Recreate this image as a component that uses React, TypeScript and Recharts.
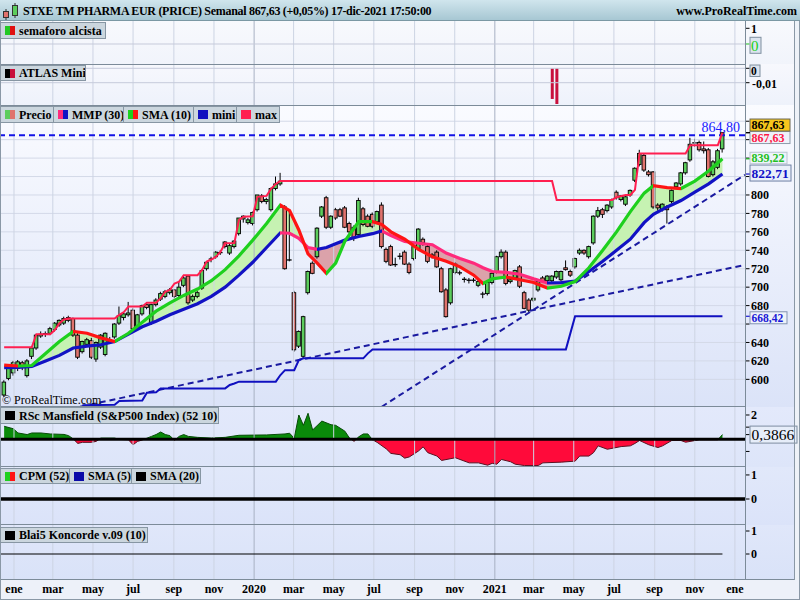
import React from 'react';
import { ComposedChart, Bar, Line, Area, XAxis, YAxis, CartesianGrid, ReferenceLine } from 'recharts';

const SERIF = '"Liberation Serif", "Times New Roman", Times, serif';
const X_DOMAIN: [number, number] = [-0.9, 160.9];

// x axis: week index 0 = week of 17-dic-2018, 156 = week of 13-dic-2021
const monthTickWeeks = [2.14, 10.57, 19.29, 28, 36.86, 45.57, 54.29, 62.86, 71.57, 80.29, 89.14, 97.86, 106.57, 115, 123.71, 132.43, 141.29, 150, 158.71];
const monthTickLabels = ['ene', 'mar', 'may', 'jul', 'sep', 'nov', '2020', 'mar', 'may', 'jul', 'sep', 'nov', '2021', 'mar', 'may', 'jul', 'sep', 'nov', 'ene'];

// weekly candles [open, high, low, close]
const candles: number[][] = [
  [583, 599, 581, 597], [601, 614, 599, 612], [607, 620, 604, 618], [612, 621, 609, 619], [618, 620, 610, 613],
  [604, 622, 602, 620], [625, 636, 622, 634], [634, 649, 632, 648], [647, 652, 645, 649], [649, 652, 646, 650],
  [650, 657, 648, 655], [654, 662, 652, 661], [659, 665, 657, 664], [661, 668, 659, 666], [667, 669, 662, 664],
  [666, 667, 646, 648], [648, 650, 622, 624], [630, 642, 628, 641], [638, 645, 636, 643], [642, 645, 622, 624],
  [622, 641, 619, 640], [635, 649, 633, 648], [627, 651, 625, 650], [643, 646, 640, 641], [646, 661, 644, 660],
  [661, 679, 659, 669], [667, 673, 664, 671], [670, 684, 668, 672], [675, 677, 652, 655], [655, 671, 653, 670],
  [671, 681, 669, 680], [681, 683, 676, 678], [661, 682, 659, 681], [681, 688, 679, 686], [687, 695, 685, 693],
  [690, 697, 688, 695], [694, 699, 692, 697], [697, 698, 688, 690], [691, 706, 689, 700], [702, 713, 700, 710],
  [712, 713, 681, 683], [686, 692, 684, 690], [690, 696, 688, 694], [699, 719, 697, 718], [720, 728, 718, 727],
  [730, 733, 727, 731], [733, 739, 731, 738], [738, 740, 735, 737], [749, 750, 742, 744], [737, 747, 735, 745],
  [744, 751, 742, 750], [758, 775, 756, 775], [774, 778, 770, 777], [770, 775, 768, 773], [769, 782, 767, 781],
  [784, 800, 782, 800], [799, 801, 791, 793], [793, 797, 790, 795], [784, 808, 782, 807], [807, 820, 805, 812],
  [812, 824, 810, 815], [787, 789, 719, 720], [730, 784, 728, 729], [694, 696, 630, 632], [636, 653, 634, 652],
  [625, 669, 622, 668], [694, 718, 692, 717], [726, 728, 714, 715], [733, 765, 731, 764], [777, 788, 775, 787],
  [797, 799, 763, 765], [765, 778, 763, 777], [784, 786, 773, 775], [784, 786, 776, 777], [786, 788, 764, 765],
  [769, 771, 758, 760], [765, 767, 750, 754], [757, 797, 755, 794], [785, 787, 766, 768], [777, 779, 765, 766],
  [779, 781, 764, 766], [771, 783, 769, 782], [789, 792, 742, 744], [741, 743, 726, 728], [744, 746, 723, 724],
  [725, 732, 722, 724], [733, 737, 730, 734], [738, 740, 724, 725], [725, 727, 714, 716], [731, 745, 729, 744],
  [742, 764, 740, 763], [752, 754, 745, 748], [744, 746, 726, 728], [733, 737, 731, 735], [738, 740, 721, 722],
  [720, 722, 694, 695], [697, 699, 667, 668], [683, 721, 681, 720], [716, 727, 714, 725], [716, 718, 713, 715],
  [709, 711, 705, 708], [707, 710, 704, 708], [707, 710, 705, 708], [702, 708, 700, 706], [693, 695, 688, 692],
  [693, 706, 691, 705], [705, 716, 703, 715], [717, 734, 715, 733], [733, 741, 731, 738], [738, 740, 702, 704],
  [706, 710, 704, 708], [710, 719, 708, 718], [722, 724, 699, 701], [694, 696, 676, 677], [686, 688, 673, 675],
  [686, 704, 684, 688], [697, 707, 695, 706], [710, 712, 705, 706], [707, 713, 705, 712], [707, 713, 705, 712],
  [711, 718, 709, 717], [708, 718, 706, 717], [721, 729, 718, 719], [717, 719, 711, 713], [722, 732, 720, 731],
  [737, 742, 735, 740], [740, 741, 735, 737], [733, 745, 731, 744], [748, 778, 746, 777], [777, 787, 775, 783],
  [784, 786, 775, 779], [783, 790, 781, 789], [787, 796, 785, 795], [803, 805, 795, 797], [795, 800, 793, 799],
  [790, 799, 788, 798], [800, 806, 798, 805], [816, 830, 814, 829], [833, 849, 831, 845], [843, 845, 825, 827],
  [825, 827, 820, 822], [825, 826, 785, 787], [789, 791, 783, 786], [784, 791, 782, 790], [787, 789, 769, 784],
  [793, 806, 791, 805], [809, 814, 807, 813], [812, 825, 810, 824], [824, 836, 822, 835], [838, 862, 836, 855],
  [856, 861, 852, 857], [857, 859, 847, 849], [850, 858, 845, 848], [849, 851, 819, 820], [822, 838, 820, 836],
  [830, 850, 828, 848], [850, 868, 846, 867.63],
];

// MMP(30) and SMA(10) read off the chart
const maWeeks = [0, 3, 6, 9, 12, 15, 18, 21, 24, 27, 30, 33, 36, 39, 42, 45, 48, 51, 54, 57, 60, 62, 64, 66, 68, 70, 72, 74, 77, 80, 82, 84, 87, 90, 93, 96, 99, 102, 104, 106, 109, 112, 115, 118, 121, 124, 127, 130, 133, 136, 139, 141, 144, 147, 150, 153, 156];
const sma10 = [615.5, 614.5, 615, 628, 641, 652, 650, 645, 641, 650, 662, 674, 683, 691, 698, 707, 719, 734, 751, 769, 789, 783, 762, 736, 726, 715, 726, 750, 771, 771, 768, 760, 752, 741, 733, 728, 722, 713, 704, 709, 711, 708, 705, 699, 701, 706, 721, 740, 760, 782, 802, 810, 808, 807, 815, 826, 839.22];
const mmp30 = [612.7, 613, 614, 620, 626, 634, 636, 637.5, 641, 649, 657, 663, 670, 676, 682, 690, 700, 713, 727, 743, 759, 758.5, 753, 743, 741, 743, 747, 751, 755, 758, 761, 756, 749.5, 747.6, 746, 737, 731, 726, 721, 717, 716, 714, 709, 704.5, 705, 706.5, 717, 728, 740, 752, 770, 779, 787, 794, 803, 812, 822.71];

const maxWeeks = [0, 6, 7, 10, 11, 12, 13, 14, 24, 25, 26, 27, 30, 31, 33, 34, 35, 36, 37, 38, 39, 42, 43, 44, 45, 46, 47, 48, 50, 51, 52, 54, 55, 57, 58, 59, 60, 119, 120, 132, 133, 135, 136, 137, 138, 148, 149, 155, 156];
const maxValues = [634.7, 634.7, 649, 649, 653.5, 660.8, 665, 666, 666, 670, 673, 679, 679, 683, 683, 688, 695, 697, 704, 706, 713, 713, 718.6, 727.7, 730, 733, 738.5, 747.6, 748, 772.9, 776.5, 777, 798, 799, 807, 812, 815.2, 815.2, 794.6, 794.6, 797.5, 800, 800, 805.5, 845, 845, 854, 854, 867.63];

const miniWeeks = [17, 24, 25, 30, 31, 33, 34, 48, 49, 50, 51, 59, 60, 61, 63, 64, 65, 78, 79, 80, 122, 124, 156];
const miniValues = [572, 572.5, 576.5, 577, 585.5, 586, 590.2, 590.2, 593.9, 595.5, 597.5, 597.5, 604.7, 610, 610, 621, 622.8, 622.8, 628.2, 632.5, 632.5, 668.42, 668.42];

const priceTicks = [600, 620, 640, 660, 680, 700, 720, 740, 760, 780, 800, 820, 840, 860, 880];
const coveredTicks = [660, 820, 840, 860, 880]; // hidden behind the value boxes in the original
const lastClose = 867.63;
const maxLast = 867.63;
const smaLast = 839.22;
const mmpLast = 822.71;
const miniLast = 668.42;
const resistance = 864.8;
const trendSlow = [{ week: 16.5, v: 570.3 }, { week: 160.9, v: 724.2 }];
const trendFast = [{ week: 82, v: 570.3 }, { week: 160.9, v: 821.9 }];

const atlasWeeks = [119, 120];
const atlasValues = [-0.0213, -0.0248];

const rscWeeks = [0, 2, 3, 5, 6, 8, 10, 13, 14, 15, 16, 17, 19, 20, 21, 24, 25, 27, 28, 29, 30, 32, 33, 34, 35, 36, 37, 38, 39, 40, 42, 45, 48, 51, 57, 61, 62, 63, 64, 65, 66, 67, 69, 71, 72, 74, 75, 76, 77, 78, 79, 80, 81, 83, 84, 86, 87, 88, 90, 91, 92, 94, 95, 98, 99, 101, 103, 105, 106, 107, 108, 110, 111, 113, 116, 117, 121, 124, 125, 127, 128, 129, 131, 134, 136, 137, 138, 140, 142, 143, 145, 147, 148, 151, 155, 156];
const rscValues = [1.07, 0.87, 0.52, 0.39, 0.52, 0.52, 0.44, 0.4, 0.3, 0.03, -0.34, -0.25, -0.25, -0.17, 0.1, 0.1, -0.01, -0.04, -0.45, -0.17, -0.06, 0.24, 0.39, 0.6, 0.39, 0.3, -0.1, 0.24, 0.39, 0.24, 0.16, 0.1, 0.16, 0.33, 0.36, 0.44, 0.5, 0.08, 2.0, 1.15, 2.14, 0.77, 1.5, 1.2, 1.15, 0.67, 0.1, -0.17, 0.2, 0.44, 0.44, -0.05, -0.25, -0.79, -1.16, -1.27, -1.55, -1.45, -0.96, -0.62, -1.1, -1.38, -1.74, -1.52, -1.66, -1.94, -1.94, -2.13, -1.98, -2.05, -1.66, -1.85, -2.05, -2.16, -2.16, -1.94, -1.88, -1.8, -1.38, -1.38, -1.1, -0.54, -0.82, -0.6, -0.54, -0.34, -0.1, -0.45, -0.68, -0.54, -0.1, -0.1, -0.24, -0.04, -0.04, 0.3866];
const rscLast = 0.3866;
const koncordeEnd = 156;

// ---------- rows built from the arrays ----------
const candleRows = candles.map(([o, h, l, c], week) => ({ week, open: o, high: h, low: l, close: c, range: [l, h] }));
const maRows = maWeeks.map((week, k) => ({ week, sma: sma10[k], mmp: mmp30[k], band: [mmp30[k], sma10[k]] }));
const maxRows = maxWeeks.map((week, k) => ({ week, v: maxValues[k] }));
const miniRows = miniWeeks.map((week, k) => ({ week, v: miniValues[k] }));
const atlasRows = atlasWeeks.map((week, k) => ({ week, v: atlasValues[k] }));
const rscRows = rscWeeks.map((week, k) => ({ week, v: rscValues[k] }));

type Stop = { offset: number; color: string };
function slopeStops(xs: number[], ys: number[], up: string, down: string): Stop[] {
  const x0 = xs[0];
  const span = xs[xs.length - 1] - x0;
  const out: Stop[] = [];
  for (let k = 0; k < xs.length - 1; k++) {
    const c = ys[k + 1] >= ys[k] ? up : down;
    out.push({ offset: (xs[k] - x0) / span, color: c }, { offset: (xs[k + 1] - x0) / span, color: c });
  }
  return out;
}
function bandStops(xs: number[], a: number[], b: number[], above: string, below: string): Stop[] {
  const x0 = xs[0];
  const span = xs[xs.length - 1] - x0;
  const out: Stop[] = [];
  for (let k = 0; k < xs.length - 1; k++) {
    const d0 = a[k] - b[k];
    const d1 = a[k + 1] - b[k + 1];
    const f0 = (xs[k] - x0) / span;
    const f1 = (xs[k + 1] - x0) / span;
    if ((d0 >= 0) === (d1 >= 0)) {
      const c = d0 + d1 >= 0 ? above : below;
      out.push({ offset: f0, color: c }, { offset: f1, color: c });
    } else {
      const t = d0 / (d0 - d1);
      const fm = f0 + (f1 - f0) * t;
      const c0 = d0 >= 0 ? above : below;
      const c1 = d0 >= 0 ? below : above;
      out.push({ offset: f0, color: c0 }, { offset: fm, color: c0 }, { offset: fm, color: c1 }, { offset: f1, color: c1 });
    }
  }
  return out;
}
const Grad = ({ id, stops }: { id: string; stops: Stop[] }) => (
  <linearGradient id={id} x1="0" y1="0" x2="1" y2="0">
    {stops.map((s, k) => <stop key={k} offset={s.offset} stopColor={s.color} />)}
  </linearGradient>
);

const smaStops = slopeStops(maWeeks, sma10, '#1ed01e', '#ff1414');
const mmpStops = slopeStops(maWeeks, mmp30, '#1212c4', '#ff2a7c');
const fillStops = bandStops(maWeeks, sma10, mmp30, '#c6f2b2', '#dba2aa');
const rscMax = Math.max(...rscValues, 0);
const rscMin = Math.min(...rscValues, 0);
const rscSplit = rscMax / (rscMax - rscMin);

// ---------- shapes ----------
const CandleShape = (props: any) => {
  const { x, y, width, height, payload } = props;
  if (!payload || typeof y !== 'number' || typeof height !== 'number') return <g />;
  const { open, high, low, close } = payload;
  const top = Math.min(y, y + height);
  const full = Math.abs(height);
  const span = high - low || 1;
  const py = (v: number) => top + ((high - v) / span) * full;
  const cx = x + width / 2;
  const bTop = py(Math.max(open, close));
  const bBot = py(Math.min(open, close));
  const bw = 3.6;
  const up = close >= open;
  return (
    <g>
      <line x1={cx} x2={cx} y1={top} y2={top + full} stroke="#000" strokeWidth={1} />
      {bBot - bTop < 1.3 ? (
        <line x1={cx - 2.3} x2={cx + 2.3} y1={(bTop + bBot) / 2} y2={(bTop + bBot) / 2} stroke="#000" strokeWidth={1.3} />
      ) : (
        <rect x={cx - bw / 2} y={bTop} width={bw} height={bBot - bTop} fill={up ? '#5ccd5c' : '#e0736d'} stroke="#000" strokeWidth={0.9} />
      )}
    </g>
  );
};

const Mark = ({ x, y, color }: any) => <line x1={x - 6} x2={x - 1.5} y1={y} y2={y} stroke={color || '#000'} strokeWidth={1} />;
const TickText = ({ x, y, children, color, size, weight }: any) => (
  <text x={x} y={y} dy="0.36em" fontFamily={SERIF} fontWeight={weight || 700} fontSize={size || 12} fill={color || '#000'}>{children}</text>
);

const PriceTick = (p: any) => (
  <g>
    <Mark x={p.x} y={p.y} />
    {coveredTicks.indexOf(p.payload.value) < 0 && <TickText x={p.x} y={p.y}>{p.payload.value}</TickText>}
  </g>
);
const SemaforoTick = (p: any) => {
  const v = p.payload.value;
  if (v === 1) return <g><Mark x={p.x} y={p.y} /><TickText x={p.x} y={p.y}>1</TickText></g>;
  return (
    <g>
      <Mark x={p.x} y={p.y} color="#20c020" />
      <rect x={p.x - 1} y={p.y - 6.7} width={11} height={16} fill="#dce4ef" stroke="#7f8f9f" />
      <TickText x={p.x} y={p.y + 1.3} color="#18d018" size={15} weight={400}>0</TickText>
    </g>
  );
};
const AtlasTick = (p: any) => {
  const v = p.payload.value;
  if (v === 0) {
    return (
      <g>
        <Mark x={p.x} y={p.y} />
        <rect x={p.x - 1} y={p.y - 3.3} width={10} height={11.5} fill="#dce4ef" stroke="#7f8f9f" />
        <TickText x={p.x} y={p.y + 2.5} size={11.5}>0</TickText>
      </g>
    );
  }
  return <g><Mark x={p.x} y={p.y} /><TickText x={p.x + 1} y={p.y + 1}>-0,01</TickText></g>;
};
const RscTick = (p: any) => {
  const v = p.payload.value;
  if (v === 2) return <g><Mark x={p.x} y={p.y} /><TickText x={p.x} y={p.y}>2</TickText></g>;
  if (v === rscLast) {
    return (
      <g>
        <Mark x={p.x} y={p.y} />
        <rect x={p.x - 1} y={p.y - 8.5} width={47} height={17} fill="#e6edf9" stroke="#7d8da0" />
        <TickText x={p.x + 0.5} y={p.y} size={15.5} weight={400}>0,3866</TickText>
      </g>
    );
  }
  return <Mark x={p.x} y={p.y} />;
};
const SimpleTick = (p: any) => (
  <g>
    <Mark x={p.x} y={p.y} />
    <TickText x={p.x} y={p.y}>{p.payload.value}</TickText>
  </g>
);
const MonthTick = (p: any) => {
  const idx = monthTickWeeks.indexOf(p.payload.value);
  return (
    <text x={p.x} y={p.y} dy={13} textAnchor="middle" fontFamily={SERIF} fontWeight={700} fontSize={12} fill="#000">
      {idx >= 0 ? monthTickLabels[idx] : ''}
    </text>
  );
};

const priceBox = (text: string, o: any) => (props: any) => {
  const vb = props.viewBox || {};
  const ax = (vb.x || 0) + (vb.width || 0);
  const ly = vb.y || 0;
  const cy = ly + o.dy;
  return (
    <g>
      <line x1={ax} x2={ax + 5} y1={ly} y2={ly} stroke={o.tick} strokeWidth={1.2} />
      <rect x={ax + 5} y={cy - o.h / 2} width={o.w} height={o.h} fill={o.bg} stroke={o.border} strokeWidth={1} />
      <text x={ax + 6.5} y={cy} dy="0.36em" fontFamily={SERIF} fontWeight={o.weight} fontSize={o.size} fill={o.color}>{text}</text>
    </g>
  );
};
const resistanceLabel = (props: any) => {
  const vb = props.viewBox || {};
  return (
    <text x={(vb.x || 0) + (vb.width || 0) - 5} y={(vb.y || 0) - 8} dy="0.36em" textAnchor="end" fontFamily={SERIF} fontSize={14} fill="#1a1aff">
      864,80
    </text>
  );
};

const monthLines = (prefix: string) =>
  monthTickWeeks.map((w, k) => (
    <ReferenceLine key={prefix + k} x={w} stroke={/^\d{4}$/.test(monthTickLabels[k]) ? '#a8b1c3' : '#cdd4e3'} strokeWidth={1} />
  ));

const xAxisHidden = <XAxis type="number" dataKey="week" domain={X_DOMAIN} allowDataOverflow hide />;
const fmt = (v: number) => String(v).replace('.', ',');

// ---------- panels ----------
const SemaforoPanel = () => (
  <ComposedChart width={800} height={43} data={candleRows} margin={{ top: 0, right: 0, bottom: 0, left: 0 }}>
    {xAxisHidden}
    <YAxis orientation="right" width={55} domain={[-1.274, 1.465]} allowDataOverflow ticks={[1, 0]} interval={0} tick={SemaforoTick} tickSize={4} tickMargin={2} tickLine={false} axisLine={false} />
    {monthLines('s')}
    <ReferenceLine y={0} stroke="#c6cadb" />
  </ComposedChart>
);

const AtlasPanel = () => (
  <ComposedChart width={800} height={41} data={atlasRows} margin={{ top: 0, right: 0, bottom: 0, left: 0 }}>
    {xAxisHidden}
    <YAxis orientation="right" width={55} domain={[-0.02549, 0.00299]} allowDataOverflow ticks={[0, -0.01]} interval={0} tick={AtlasTick} tickSize={4} tickMargin={2} tickLine={false} axisLine={false} />
    {monthLines('a')}
    <ReferenceLine y={0} stroke="#c6cadb" />
    <ReferenceLine y={-0.01} stroke="#c6cadb" />
    <Bar dataKey="v" fill="#c8103c" barSize={3} isAnimationActive={false} />
  </ComposedChart>
);

const PricePanel = () => (
  <ComposedChart width={800} height={302} data={candleRows} margin={{ top: 0, right: 0, bottom: 0, left: 0 }}>
    <defs>
      <Grad id="smaStroke" stops={smaStops} />
      <Grad id="mmpStroke" stops={mmpStops} />
      <Grad id="bandFill" stops={fillStops} />
    </defs>
    {xAxisHidden}
    <YAxis orientation="right" width={55} domain={[570, 897.6]} allowDataOverflow ticks={priceTicks} interval={0} tick={PriceTick} tickSize={4} tickMargin={2} tickLine={false} axisLine={false} />
    <CartesianGrid horizontal vertical={false} stroke="#d3d9e8" />
    {monthLines('p')}
    <Area data={maRows} dataKey="band" type="linear" fill="url(#bandFill)" fillOpacity={1} stroke="none" isAnimationActive={false} />
    <ReferenceLine y={resistance} stroke="#1414e6" strokeWidth={2} strokeDasharray="6 4" label={resistanceLabel} />
    <ReferenceLine segment={[{ x: trendSlow[0].week, y: trendSlow[0].v }, { x: trendSlow[1].week, y: trendSlow[1].v }]} stroke="#1a1aa0" strokeWidth={2} strokeDasharray="6 4" />
    <ReferenceLine segment={[{ x: trendFast[0].week, y: trendFast[0].v }, { x: trendFast[1].week, y: trendFast[1].v }]} stroke="#1a1aa0" strokeWidth={2} strokeDasharray="6 4" />
    <Line data={maxRows} dataKey="v" type="linear" stroke="#ff1f50" strokeWidth={2} dot={false} activeDot={false} isAnimationActive={false} />
    <Line data={miniRows} dataKey="v" type="linear" stroke="#1010c0" strokeWidth={2} dot={false} activeDot={false} isAnimationActive={false} />
    <Bar dataKey="range" shape={CandleShape} barSize={4} isAnimationActive={false} />
    <Line data={maRows} dataKey="mmp" type="linear" stroke="url(#mmpStroke)" strokeWidth={3.2} dot={false} activeDot={false} isAnimationActive={false} />
    <Line data={maRows} dataKey="sma" type="linear" stroke="url(#smaStroke)" strokeWidth={3.2} dot={false} activeDot={false} isAnimationActive={false} />
  </ComposedChart>
);

const PriceLabels = () => (
  <ComposedChart width={800} height={302} data={candleRows} margin={{ top: 0, right: 55, bottom: 0, left: 0 }}>
    {xAxisHidden}
    <YAxis hide domain={[570, 897.6]} allowDataOverflow />
    <ReferenceLine y={miniLast} stroke="none" label={priceBox(fmt(miniLast), { tick: '#1a1ad6', color: '#1a1ad6', bg: '#eef2fa', border: '#8393b0', dy: 1.5, w: 37, h: 12, size: 11.5, weight: 700 })} />
    <ReferenceLine y={mmpLast} stroke="none" label={priceBox(fmt(mmpLast), { tick: '#1010c8', color: '#1010c8', bg: '#e9eff9', border: '#6f80a4', dy: -1, w: 41, h: 16, size: 13.5, weight: 700 })} />
    <ReferenceLine y={smaLast} stroke="none" label={priceBox(fmt(smaLast), { tick: '#20c020', color: '#1fc01f', bg: '#eef3fa', border: '#b8c4d2', dy: -0.8, w: 37, h: 11.5, size: 12, weight: 700 })} />
    <ReferenceLine y={maxLast} stroke="none" label={priceBox(fmt(maxLast), { tick: '#000', color: '#ff1744', bg: '#eef2fa', border: '#8e9cab', dy: 4.9, w: 40, h: 12, size: 12, weight: 700 })} />
    <ReferenceLine y={lastClose} stroke="none" label={priceBox(fmt(lastClose), { tick: '#000', color: '#000', bg: '#f7c61c', border: '#6b6650', dy: -7.6, w: 40, h: 12, size: 12, weight: 700 })} />
  </ComposedChart>
);

const RscPanel = () => (
  <ComposedChart width={800} height={60} data={rscRows} margin={{ top: 0, right: 0, bottom: 0, left: 0 }}>
    <defs>
      <linearGradient id="rscFill" x1="0" y1="0" x2="0" y2="1">
        <stop offset={rscSplit} stopColor="#0a8a0a" />
        <stop offset={rscSplit} stopColor="#ff0a3a" />
      </linearGradient>
      <linearGradient id="rscStroke" x1="0" y1="0" x2="0" y2="1">
        <stop offset={rscSplit} stopColor="#064a06" />
        <stop offset={rscSplit} stopColor="#5a1020" />
      </linearGradient>
    </defs>
    {xAxisHidden}
    <YAxis orientation="right" width={55} domain={[-2.28, 2.658]} allowDataOverflow ticks={[2, 1, rscLast, -1]} interval={0} tick={RscTick} tickSize={4} tickMargin={2} tickLine={false} axisLine={false} />
    {monthLines('r')}
    <Area dataKey="v" type="linear" baseValue={0} fill="url(#rscFill)" fillOpacity={1} stroke="url(#rscStroke)" strokeWidth={1} isAnimationActive={false} />
    <ReferenceLine y={0} stroke="#000" strokeWidth={3} />
  </ComposedChart>
);

const CpmPanel = () => (
  <ComposedChart width={800} height={58} data={candleRows} margin={{ top: 0, right: 0, bottom: 0, left: 0 }}>
    {xAxisHidden}
    <YAxis orientation="right" width={55} domain={[-1.08, 1.33]} allowDataOverflow ticks={[1, 0]} interval={0} tick={SimpleTick} tickSize={4} tickMargin={2} tickLine={false} axisLine={false} />
    {monthLines('c')}
    <ReferenceLine y={0} stroke="#000" strokeWidth={3.5} />
  </ComposedChart>
);

const KoncordePanel = () => (
  <ComposedChart width={800} height={75} data={candleRows} margin={{ top: 0, right: 0, bottom: 0, left: 0 }}>
    <XAxis type="number" dataKey="week" domain={X_DOMAIN} allowDataOverflow height={20} ticks={monthTickWeeks} interval={0} tick={MonthTick} tickLine={false} axisLine={false} tickSize={0} tickMargin={0} />
    <YAxis orientation="right" width={55} domain={[-1.13, 1.261]} allowDataOverflow ticks={[1, 0]} interval={0} tick={SimpleTick} tickSize={4} tickMargin={2} tickLine={false} axisLine={false} />
    {monthLines('k')}
    <ReferenceLine segment={[{ x: X_DOMAIN[0], y: 0 }, { x: koncordeEnd, y: 0 }]} stroke="#000" strokeWidth={1.2} />
  </ComposedChart>
);

// ---------- html chrome ----------
const Legend = ({ left, top, width, height = 17, label, colors }: any) => (
  <div
    style={{
      position: 'absolute', left, top, width, height, boxSizing: 'border-box', background: '#cbd6de',
      border: '1px solid #8796a3', display: 'flex', alignItems: 'center', font: `bold 12px ${SERIF}`,
      color: '#000', whiteSpace: 'nowrap', overflow: 'hidden',
    }}
  >
    <span
      style={{
        display: 'inline-block', width: 10, height: 9, marginLeft: 4, marginRight: 4, flex: 'none',
        background: colors.length > 1 ? `linear-gradient(to right, ${colors[0]} 50%, ${colors[1]} 50%)` : colors[0],
      }}
    />
    <span style={{ lineHeight: '14px' }}>{label}</span>
  </div>
);

const Panel = ({ top, height, bg, width = 794 }: any) => (
  <div style={{ position: 'absolute', left: 0, top, width, height, background: bg }} />
);
const HLine = ({ top, left = 0, width, color = '#7c8b99' }: any) => (
  <div style={{ position: 'absolute', left, top, width, height: 1, background: color }} />
);
const VLine = ({ left, top, height, color = '#7c8b99' }: any) => (
  <div style={{ position: 'absolute', left, top, width: 1, height, background: color }} />
);
const Place = ({ top, children }: any) => <div style={{ position: 'absolute', left: 0, top }}>{children}</div>;

export default function App() {
  return (
    <div style={{ position: 'absolute', left: 0, top: 0, width: 800, height: 600, overflow: 'hidden', background: '#eef2f8', fontFamily: SERIF }}>
      <Panel top={21} height={43} bg="linear-gradient(#f8f9fd, #f1f4fb)" />
      <Panel top={64} height={41} bg="linear-gradient(#f7f8fd, #eef2fb)" />
      <Panel top={105} height={302} bg="linear-gradient(#fafbff, #dbe3f8)" />
      <Panel top={407} height={60} bg="linear-gradient(#e3e9fb, #dde5f9)" />
      <Panel top={467} height={58} bg="linear-gradient(#e1e8fa, #dbe3f9)" />
      <Panel top={525} height={55} bg="linear-gradient(#e0e7fa, #d9e2f8)" />
      <Panel top={580} height={20} width={800} bg="#edf1f9" />

      <Place top={21}><SemaforoPanel /></Place>
      <Place top={64}><AtlasPanel /></Place>
      <Place top={105}><PricePanel /></Place>
      <Place top={105}><PriceLabels /></Place>
      <Place top={407}><RscPanel /></Place>
      <Place top={467}><CpmPanel /></Place>
      <Place top={525}><KoncordePanel /></Place>

      <HLine top={64} width={745} />
      <HLine top={105} width={745} />
      <HLine top={406} width={745} />
      <HLine top={466} width={745} />
      <HLine top={524} width={745} />
      <HLine top={579} width={795} />
      <VLine left={745} top={21} height={559} />
      <VLine left={794} top={21} height={559} color="#8a98a6" />
      <VLine left={0} top={21} height={579} color="#8a98a6" />
      <HLine top={599} width={800} color="#8a98a6" />
      <VLine left={799} top={21} height={579} color="#8a98a6" />

      <div style={{ position: 'absolute', left: 2, top: 393, font: `12px ${SERIF}`, color: '#000', whiteSpace: 'nowrap' }}>© ProRealTime.com</div>

      <Legend left={0} top={22} width={106} label="semaforo alcista" colors={['#22c822', '#e01010']} />
      <Legend left={0} top={65} width={86} height={16} label="ATLAS Mini" colors={['#000', '#c8103c']} />
      <Legend left={0} top={106} width={54} label="Precio" colors={['#5ccd5c', '#e0736d']} />
      <Legend left={53} top={106} width={71} label="MMP (30)" colors={['#ff2a7c', '#1212c4']} />
      <Legend left={123} top={106} width={71} label="SMA (10)" colors={['#1ed01e', '#ff1414']} />
      <Legend left={193} top={106} width={44} label="mini" colors={['#1010c0']} />
      <Legend left={236} top={106} width={44} label="max" colors={['#ff1f50']} />
      <Legend left={0} top={407} width={219} label="RSc Mansfield (S&P500 Index) (52 10)" colors={['#000']} />
      <Legend left={0} top={468} width={70} height={16} label="CPM (52)" colors={['#1ed01e', '#ff1414']} />
      <Legend left={69} top={468} width={63} height={16} label="SMA (5)" colors={['#0a0aa8']} />
      <Legend left={131} top={468} width={70} height={16} label="SMA (20)" colors={['#000']} />
      <Legend left={0} top={527} width={148} height={16} label="Blai5 Koncorde v.09 (10)" colors={['#000']} />

      <div style={{ position: 'absolute', left: 0, top: 0, width: 800, height: 21, boxSizing: 'border-box', background: 'linear-gradient(#d0e5ed, #a7c7d3)', borderBottom: '1px solid #7b98a4' }}>
        <svg width={20} height={20} style={{ position: 'absolute', left: 2, top: 1 }}>
          <line x1={4} x2={4} y1={8} y2={19} stroke="#333" />
          <rect x={1.5} y={10.5} width={5} height={6} fill="#e0736d" stroke="#333" />
          <line x1={13} x2={13} y1={2} y2={17} stroke="#333" />
          <rect x={10.5} y={4.5} width={5} height={10} fill="#5ccd5c" stroke="#333" />
        </svg>
        <div style={{ position: 'absolute', left: 23, top: 4, font: `bold 12px ${SERIF}`, letterSpacing: -0.3, color: '#000', whiteSpace: 'nowrap' }}>
          STXE TM PHARMA EUR (PRICE) Semanal 867,63 (+0,05%) 17-dic-2021 17:50:00
        </div>
        <div style={{ position: 'absolute', right: 3, top: 4, font: `bold 12px ${SERIF}`, color: '#000', whiteSpace: 'nowrap' }}>
          www.ProRealTime.com
        </div>
      </div>
    </div>
  );
}
